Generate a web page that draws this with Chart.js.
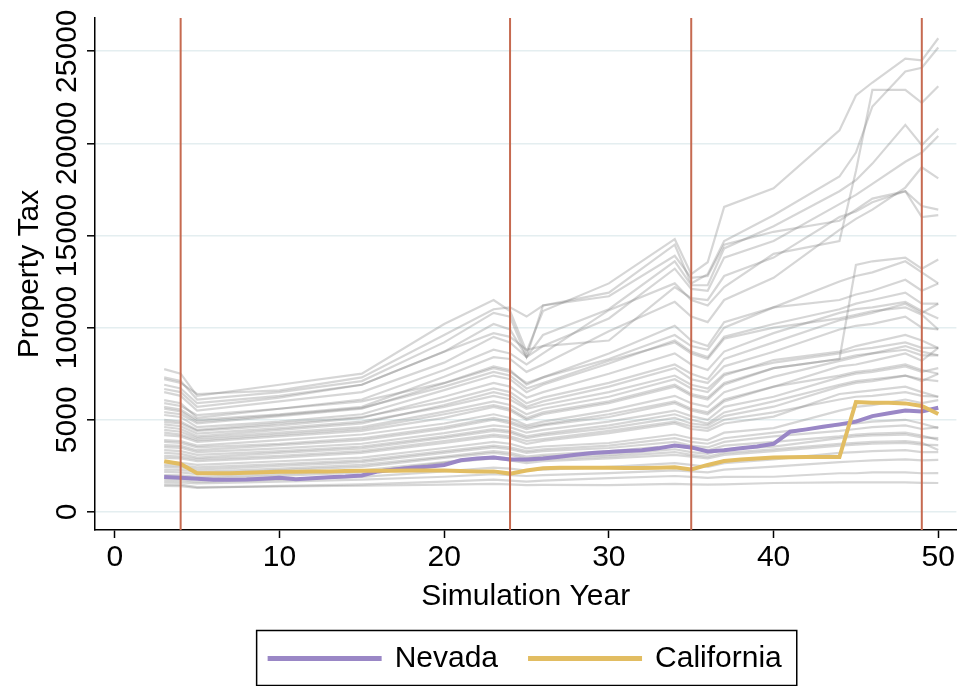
<!DOCTYPE html>
<html>
<head>
<meta charset="utf-8">
<script src="https://cdn.jsdelivr.net/npm/chart.js@4/dist/chart.umd.min.js"></script>
<style>
    html, body { margin: 0; padding: 0; background: #fff; }
    #wrap { width: 960px; height: 686px; }
</style>
</head>
<body>
<div id="wrap"><canvas id="tax-chart"></canvas></div>
<script>
// Simulation years for the two highlighted states
const years = [3, 4, 5, 6, 7, 8, 9, 10, 11, 12, 13, 14, 15, 16, 17, 18, 19, 20, 21, 22, 23, 24, 25, 26,
    27, 28, 29, 30, 31, 32, 33, 34, 35, 36, 37, 38, 39, 40, 41, 42, 43, 44, 45, 46, 47, 48, 49, 50];

const nevada = [1900, 1850, 1800, 1750, 1750, 1760, 1800, 1850, 1780, 1830, 1880, 1920, 1980, 2200, 2300, 2400,
    2450, 2550, 2800, 2900, 2950, 2850, 2850, 2900, 3000, 3100, 3200, 3250, 3300, 3350, 3450, 3600,
    3500, 3280, 3350, 3450, 3550, 3700, 4350, 4480, 4620, 4750, 4900, 5200, 5350, 5500, 5450, 5650];

const california = [2750, 2600, 2100, 2100, 2100, 2120, 2150, 2180, 2180, 2200, 2200, 2220, 2230, 2240, 2240, 2250,
    2250, 2250, 2220, 2200, 2200, 2080, 2250, 2370, 2400, 2400, 2400, 2400, 2380, 2380, 2400, 2420,
    2310, 2550, 2760, 2850, 2900, 2950, 2970, 2980, 2980, 2980, 5960, 5930, 5930, 5890, 5750, 5310];

const keyYears = [3, 4, 5, 10, 15, 20, 23, 24, 25, 26, 30, 34, 35, 36, 37, 40, 44, 45, 46, 48, 49, 50];

// Every other state, one row per state (values at keyYears)
const otherStates = [
    [7750, 7500, 6300, 6900, 7500, 10200, 11500, 10900, 8700, 10900, 12400, 14800, 12900, 13550, 16550, 17560, 20700, 22600, 23300, 24600, 24500, 25700],
    [7200, 7000, 6400, 6600, 7300, 9600, 11000, 11100, 10600, 11200, 11900, 14500, 12400, 12900, 14700, 16100, 18200, 19500, 22000, 23900, 24100, 25200],
    [6670, 6500, 5700, 6200, 6900, 8700, 10200, 9900, 8400, 9600, 11000, 13600, 12300, 12300, 14300, 15500, 17400, 18000, 18900, 21000, 19900, 20800],
    [6500, 6300, 5500, 6000, 6500, 8100, 9500, 9200, 8400, 9000, 10500, 13200, 12100, 12000, 13800, 14700, 16700, 17200, 17800, 19000, 19500, 20400],
    [6070, 5900, 5100, 5600, 6100, 7700, 8800, 8600, 8000, 8600, 10950, 12400, 11500, 11200, 12200, 14000, 14700, 18500, 22900, 22900, 22200, 23100],
    [6900, 6700, 5900, 6300, 6900, 8690, 9700, 9500, 8800, 9000, 9300, 12200, 11600, 11500, 12800, 13800, 16000, 16300, 16800, 17400, 16000, 16100],
    [5700, 5550, 5000, 5300, 5700, 7330, 8400, 8300, 7600, 8000, 9800, 11400, 10600, 10300, 11500, 12700, 15300, 15900, 16400, 17600, 18700, 18100],
    [5420, 5300, 4800, 5200, 5600, 6980, 7800, 7600, 7000, 7300, 8600, 10100, 9300, 9000, 10300, 11100, 11500, 11800, 12000, 12600, 12000, 12400],
    [5260, 5150, 4600, 4900, 5300, 6610, 7400, 7200, 6500, 6900, 8050, 9300, 8700, 8400, 9500, 10200, 11000, 11300, 11500, 11900, 11300, 11300],
    [4880, 4800, 4400, 4700, 5100, 6250, 7000, 6800, 6200, 6500, 7500, 8600, 8000, 7700, 8700, 9700, 10800, 11000, 11100, 11400, 10900, 10500],
    [4610, 4500, 4100, 4450, 4800, 5800, 6500, 6300, 5700, 6000, 6800, 7800, 7200, 7000, 7900, 8690, 9900, 10100, 10200, 10600, 10000, 9900],
    [4450, 4350, 4000, 4300, 4600, 5440, 6000, 5800, 5300, 5600, 6250, 7200, 6700, 6500, 7400, 8240, 8700, 9000, 9200, 9600, 9300, 8900],
    [4170, 4100, 3800, 4100, 4400, 5100, 5700, 5500, 5000, 5300, 5900, 6800, 6300, 6100, 6900, 7800, 8300, 13400, 13600, 13800, 13200, 13700],
    [3900, 3850, 3600, 3900, 4200, 4800, 5300, 5100, 4700, 4900, 5500, 6300, 5900, 5700, 6500, 7330, 8200, 8400, 8600, 9000, 8700, 8500],
    [3630, 3580, 3350, 3630, 3900, 4500, 5000, 4800, 4500, 4700, 5150, 5900, 5500, 5300, 6000, 6790, 7900, 8000, 8200, 8600, 8200, 8900],
    [3520, 3480, 3250, 3450, 3700, 4280, 4700, 4600, 4300, 4450, 4900, 5500, 5200, 5000, 5700, 6250, 7300, 7500, 7600, 7900, 7600, 7800],
    [3200, 3150, 2950, 3200, 3450, 4010, 4400, 4300, 4000, 4150, 4550, 5100, 4800, 4700, 5200, 5710, 6800, 7000, 7100, 7400, 7100, 7500],
    [2930, 2900, 2750, 2950, 3200, 3740, 4100, 4000, 3700, 3850, 4280, 4800, 4500, 4400, 4800, 5170, 6400, 6500, 6600, 6800, 6500, 6250],
    [2700, 2670, 2550, 2750, 2950, 3470, 3800, 3700, 3450, 3550, 3740, 4200, 4000, 3900, 4300, 4550, 5500, 5700, 5800, 6100, 5900, 6070],
    [2440, 2420, 2300, 2500, 2700, 3200, 3500, 3400, 3200, 3300, 3470, 3800, 3600, 3500, 3800, 4100, 4400, 4500, 4600, 4700, 4500, 4600],
    [2170, 2150, 2050, 2250, 2450, 2930, 3200, 3100, 2900, 3000, 3100, 3400, 3250, 3150, 3400, 3540, 4000, 4100, 4150, 4200, 4050, 4000],
    [1900, 1880, 1800, 1950, 2150, 2660, 2900, 2800, 2650, 2750, 2900, 3100, 3000, 2900, 3100, 3300, 3600, 3650, 3700, 3750, 3650, 3630],
    [1630, 1600, 1550, 1640, 1750, 1910, 2050, 2000, 1950, 2000, 2110, 2250, 2200, 2150, 2300, 2460, 2700, 2750, 2800, 2850, 2800, 2820],
    [1410, 1400, 1300, 1410, 1500, 1640, 1750, 1700, 1650, 1700, 1840, 1950, 1900, 1850, 1900, 1910, 2100, 2100, 2150, 2150, 2100, 2110],
    [1500, 1480, 1350, 1380, 1420, 1480, 1520, 1500, 1460, 1470, 1460, 1520, 1500, 1480, 1500, 1570, 1600, 1600, 1600, 1600, 1580, 1570],
    [5900, 5750, 5250, 5600, 6000, 7000, 7900, 7700, 6900, 7300, 8300, 9600, 9000, 8800, 10000, 11100, 12500, 12800, 13000, 13600, 13000, 12400],
    [5000, 4900, 4450, 4800, 5150, 6000, 6700, 6500, 5900, 6200, 7000, 8000, 7500, 7200, 8300, 9200, 10400, 10600, 10800, 11300, 10800, 11300],
    [4300, 4200, 3900, 4200, 4500, 5300, 5800, 5600, 5100, 5400, 6000, 6900, 6400, 6200, 7000, 7800, 8300, 8500, 8600, 8800, 8500, 8500],
    [3800, 3750, 3500, 3700, 4000, 4600, 5100, 4900, 4600, 4750, 5300, 6000, 5600, 5400, 6100, 6800, 7400, 7600, 7700, 8000, 7700, 7500],
    [3350, 3300, 3100, 3300, 3550, 4100, 4500, 4400, 4100, 4250, 4700, 5300, 5000, 4800, 5400, 6000, 6900, 7100, 7200, 7400, 7200, 7100],
    [3050, 3000, 2850, 3050, 3300, 3850, 4200, 4100, 3850, 3950, 4400, 4900, 4650, 4550, 5000, 5400, 6100, 6250, 6300, 6500, 6300, 6250],
    [2550, 2530, 2420, 2600, 2800, 3300, 3600, 3500, 3300, 3400, 3600, 4000, 3800, 3700, 4000, 4300, 4700, 4800, 4900, 5000, 4800, 4550],
    [2300, 2280, 2180, 2350, 2550, 3000, 3300, 3200, 3000, 3100, 3300, 3600, 3450, 3350, 3600, 3800, 4100, 4200, 4250, 4300, 4150, 3900],
    [2000, 1980, 1900, 2050, 2250, 2700, 3000, 2900, 2750, 2850, 3000, 3250, 3100, 3000, 3200, 3400, 3700, 3750, 3800, 3850, 3750, 3360],
    [1750, 1730, 1650, 1750, 1900, 2200, 2400, 2350, 2250, 2300, 2450, 2650, 2550, 2450, 2650, 2850, 3200, 3250, 3300, 3350, 3250, 3250],
    [7300, 7100, 6100, 6500, 7100, 9200, 10800, 10590, 8420, 11200, 11700, 13900, 12700, 12800, 14500, 15200, 15800, 16400, 17000, 17400, 16600, 16400],
    [5600, 5450, 4900, 5250, 5650, 6800, 7600, 7400, 6700, 7000, 8200, 9200, 8600, 8300, 9400, 10000, 10500, 10700, 10900, 11100, 10700, 9900],
    [4750, 4650, 4250, 4550, 4900, 5700, 6300, 6100, 5600, 5800, 6500, 7400, 6900, 6700, 7500, 8100, 8600, 8800, 8900, 9200, 8900, 8900]
];

// Years with a policy change (vertical reference lines)
const policyYears = [4, 24, 35, 49];

// Axis ticks and ranges
const xTicks = [0, 10, 20, 30, 40, 50];
const yTicks = [0, 5000, 10000, 15000, 20000, 25000];
const xMin = -1.2, xMax = 51.1;
const yMin = -980, yMax = 26800;

const FONT = "'Liberation Sans', Arial, Helvetica, sans-serif";
const NV_COLOR = '#9a87c6';
const CA_COLOR = '#e2bd62';
const POLICY_COLOR = '#c66a50';
const OTHER_COLOR = 'rgba(120, 120, 120, 0.3)';

Chart.defaults.font.family = FONT;
Chart.defaults.color = '#000';

function toPoints(xs, ys) {
    return xs.map((x, i) => ({ x: x, y: ys[i] }));
}

// Draws the frame round the legend
const legendFrame = {
    id: 'legendFrame',
    afterDraw(chart) {
        const boxes = chart.legend && chart.legend.legendHitBoxes;
        if (!boxes || !boxes.length) return;
        const first = boxes[0];
        const last = boxes[boxes.length - 1];
        const cy = first.top + first.height / 2;
        const ctx = chart.ctx;
        ctx.save();
        ctx.strokeStyle = '#000';
        ctx.lineWidth = 1.5;
        ctx.strokeRect(first.left - 13, cy - 28, (last.left + last.width) - first.left + 28, 55);
        ctx.restore();
    }
};

const datasets = [
    {
        label: 'Nevada',
        data: toPoints(years, nevada),
        borderColor: NV_COLOR,
        backgroundColor: NV_COLOR,
        borderWidth: 4,
        order: 2
    },
    {
        label: 'California',
        data: toPoints(years, california),
        borderColor: CA_COLOR,
        backgroundColor: CA_COLOR,
        borderWidth: 4,
        order: 1
    }
];

for (const yr of policyYears) {
    datasets.push({
        label: 'Policy change',
        data: [{ x: yr, y: yMin }, { x: yr, y: yMax }],
        borderColor: POLICY_COLOR,
        borderWidth: 2,
        order: 0
    });
}

for (const row of otherStates) {
    datasets.push({
        label: 'Other state',
        data: toPoints(keyYears, row),
        borderColor: OTHER_COLOR,
        borderWidth: 2.2,
        order: 3
    });
}

new Chart(document.getElementById('tax-chart'), {
    type: 'line',
    data: { datasets },
    options: {
        responsive: true,
        maintainAspectRatio: false,
        animation: false,
        elements: {
            point: { radius: 0, hoverRadius: 0 },
            line: { tension: 0 }
        },
        layout: {
            padding: { left: 4.5, right: 2, top: 18, bottom: 2.5 }
        },
        plugins: {
            tooltip: { enabled: false },
            legend: {
                position: 'bottom',
                fullSize: false,
                labels: {
                    filter: (item) => item.text === 'Nevada' || item.text === 'California',
                    sort: (a, b) => a.datasetIndex - b.datasetIndex,
                    boxWidth: 110,
                    boxHeight: 1,
                    padding: 32,
                    color: '#000',
                    font: { size: 30 }
                }
            }
        },
        scales: {
            x: {
                type: 'linear',
                min: xMin,
                max: xMax,
                afterBuildTicks: (scale) => {
                    scale.ticks = xTicks.map(v => ({ value: v }));
                },
                ticks: {
                    autoSkip: false,
                    maxRotation: 0,
                    padding: 5,
                    color: '#000',
                    font: { size: 30, lineHeight: 1 },
                    callback: (value) => String(value)
                },
                grid: {
                    drawOnChartArea: false,
                    tickLength: 8,
                    tickColor: '#000',
                    tickWidth: 1.5
                },
                border: { color: '#000', width: 1.5 },
                title: {
                    display: true,
                    text: 'Simulation Year',
                    color: '#000',
                    font: { size: 30, lineHeight: 1 },
                    padding: { top: 3.5, bottom: 0 }
                }
            },
            y: {
                type: 'linear',
                min: yMin,
                max: yMax,
                afterBuildTicks: (scale) => {
                    scale.ticks = yTicks.map(v => ({ value: v }));
                },
                ticks: {
                    autoSkip: false,
                    minRotation: 90,
                    maxRotation: 90,
                    crossAlign: 'center',
                    padding: -22.2,
                    color: '#000',
                    font: { size: 30, lineHeight: 1 },
                    callback: (value) => String(value)
                },
                grid: {
                    color: '#e4eef0',
                    lineWidth: 1.6,
                    tickLength: 8,
                    tickColor: '#000',
                    tickWidth: 1.5
                },
                border: { color: '#000', width: 1.5 },
                title: {
                    display: true,
                    text: 'Property Tax',
                    color: '#000',
                    font: { size: 30, lineHeight: 1 },
                    padding: { top: 10, bottom: 56.9 }
                }
            }
        }
    },
    plugins: [legendFrame]
});
</script>
</body>
</html>
